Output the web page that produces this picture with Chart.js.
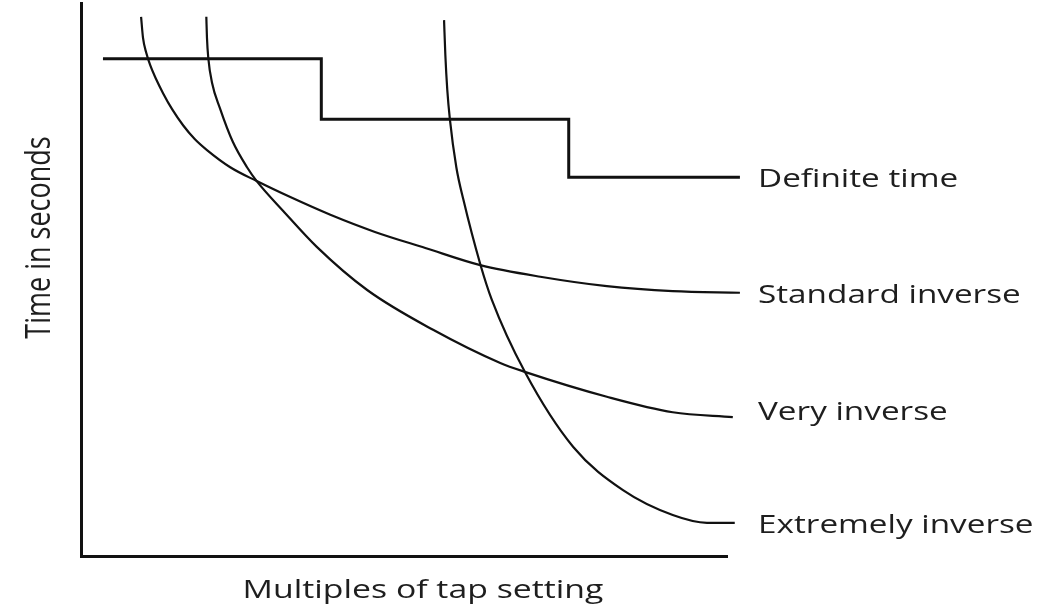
<!DOCTYPE html>
<html>
<head>
<meta charset="utf-8">
<script src="https://cdn.jsdelivr.net/npm/chart.js@4"></script>
<style>
  html, body { margin: 0; padding: 0; background: #fff; }
  canvas { display: block; }
</style>
</head>
<body>
<canvas id="c" width="1047" height="614"></canvas>
<script>
// Series (abstract units: x = multiples of tap setting, y = time)
const seriesNames = ["Definite time", "Standard inverse", "Very inverse", "Extremely inverse"];
const definiteX = [0.34, 3.72, 3.72, 7.55, 7.55, 10.20];
const definiteY = [8.99, 8.99, 7.90, 7.90, 6.85, 6.85];
const standardX = [0.93, 0.96, 1.01, 1.07, 1.16, 1.27, 1.41, 1.58, 1.76, 1.95, 2.31, 2.72, 3.24, 3.86, 4.55, 5.33, 6.18, 7.11, 8.14, 9.16, 10.20];
const standardY = [9.75, 9.37, 9.10, 8.88, 8.63, 8.37, 8.08, 7.79, 7.54, 7.34, 7.03, 6.78, 6.49, 6.17, 5.86, 5.57, 5.26, 5.05, 4.88, 4.79, 4.76];
const veryX = [1.94, 1.95, 1.97, 2.03, 2.15, 2.35, 2.57, 2.72, 3.13, 3.65, 4.43, 5.45, 6.49, 6.87, 8.14, 9.16, 10.09];
const veryY = [9.75, 9.37, 9.01, 8.55, 8.10, 7.49, 7.03, 6.78, 6.24, 5.59, 4.81, 4.09, 3.49, 3.33, 2.88, 2.60, 2.51];
const extremeX = [5.62, 5.64, 5.67, 5.71, 5.81, 5.92, 6.18, 6.36, 6.87, 7.62, 8.39, 9.16, 9.69, 10.12];
const extremeY = [9.69, 9.06, 8.43, 7.90, 7.03, 6.44, 5.28, 4.63, 3.33, 1.97, 1.19, 0.74, 0.60, 0.60];
const xTitle = "Multiples of tap setting";
const yTitle = "Time in seconds";

const pts = (xs, ys) => xs.map((x, i) => ({ x, y: ys[i] }));
const FONT = '"Open Sans", "Noto Sans", sans-serif';
const INK = '#111';
const TEXT = '#1e1e1e';
const STRETCH = 1.28;

const labelPlugin = {
  id: 'labels',
  afterDatasetsDraw(chart) {
    const ctx = chart.ctx;
    const xs = chart.scales.x, ys = chart.scales.y;
    const lift = [0, 0, -7, 0];
    ctx.save();
    ctx.fillStyle = TEXT;
    ctx.font = '26px ' + FONT;
    ctx.textBaseline = 'alphabetic';
    ctx.textAlign = 'left';
    chart.data.datasets.forEach((ds, i) => {
      const last = ds.data[ds.data.length - 1];
      const px = xs.right + 31;
      const py = ys.getPixelForValue(last.y) + 10 + lift[i];
      ctx.save();
      ctx.translate(px, py);
      ctx.scale(STRETCH, 1);
      ctx.fillText(ds.label, 0, 0);
      ctx.restore();
    });
    // x axis title
    ctx.save();
    ctx.textAlign = 'center';
    ctx.translate((xs.left + xs.right) / 2 + 19, chart.chartArea.bottom + 42);
    ctx.scale(1.30, 1);
    ctx.fillText(xTitle, 0, 0);
    ctx.restore();
    // y axis title
    ctx.save();
    ctx.textAlign = 'center';
    ctx.font = '27px ' + FONT;
    ctx.translate(50, (chart.chartArea.top + chart.chartArea.bottom) / 2 - 42);
    ctx.rotate(-Math.PI / 2);
    ctx.scale(1, 1.3);
    ctx.fillText(yTitle, 0, 0);
    ctx.restore();
    ctx.restore();
  }
};

const mk = (label, data, w, smooth) => ({
  label, data,
  borderColor: INK, borderWidth: w,
  pointRadius: 0, fill: false, clip: false,
  tension: smooth ? 0.4 : 0,
  cubicInterpolationMode: smooth ? 'monotone' : 'default'
});

new Chart(document.getElementById('c'), {
  type: 'line',
  data: {
    datasets: [
      mk(seriesNames[0], pts(definiteX, definiteY), 3, false),
      mk(seriesNames[1], pts(standardX, standardY), 2.2, true),
      mk(seriesNames[2], pts(veryX, veryY), 2.2, true),
      mk(seriesNames[3], pts(extremeX, extremeY), 2.2, true)
    ]
  },
  options: {
    responsive: false,
    animation: false,
    layout: { padding: { left: 81, right: 320, top: 3, bottom: 58 } },
    plugins: { legend: { display: false }, tooltip: { enabled: false } },
    scales: {
      x: {
        type: 'linear', min: 0, max: 10,
        grid: { display: false, drawTicks: false },
        ticks: { display: false },
        border: { display: true, color: INK, width: 3 },
        afterFit(s) { s.height = 0; }
      },
      y: {
        type: 'linear', min: 0, max: 10,
        grid: { display: false, drawTicks: false },
        ticks: { display: false },
        border: { display: true, color: INK, width: 3 },
        afterFit(s) { s.width = 0; }
      }
    }
  },
  plugins: [labelPlugin]
});
</script>
</body>
</html>
